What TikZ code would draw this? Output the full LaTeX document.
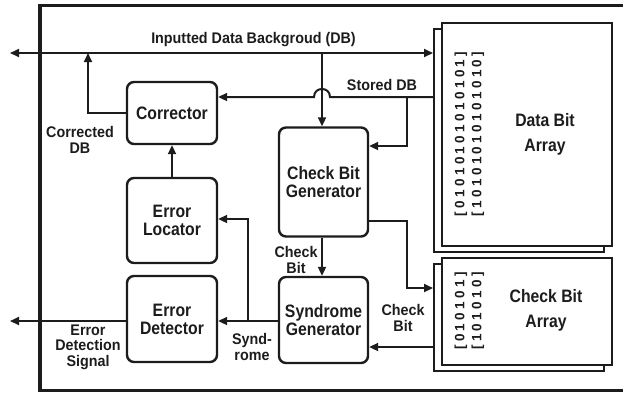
\documentclass[tikz,border=0pt]{standalone}
\usepackage{fontspec}
\setmainfont{Liberation Sans}
\newfontfamily\blockfont[FakeStretch=0.875]{Liberation Sans}
\newfontfamily\notefont[FakeStretch=0.93]{Liberation Sans}
\usetikzlibrary{arrows.meta}
\definecolor{ink}{HTML}{1C1C1C}
\begin{document}
\begin{tikzpicture}[x=1pt,y=-1pt,
  >={Triangle[length=9pt,width=8pt]},
  module/.style={draw=ink, line width=2.4pt, rounded corners=7pt, align=center,
    text=ink, inner sep=0pt, font=\blockfont\bfseries\fontsize{18}{18}\selectfont},
  lbl/.style={align=center, text=ink, inner sep=0pt,
    font=\notefont\bfseries\fontsize{15.4}{15.5}\selectfont},
  arraybox/.style={draw=ink, line width=2pt, fill=white, inner sep=0pt},
  arraylbl/.style={align=center, text=ink, inner sep=0pt,
    font=\blockfont\bfseries\fontsize{18}{25}\selectfont},
  bits/.style={rotate=90, align=center, text=ink, inner sep=0pt,
    font=\fontsize{13.5}{17}\selectfont\bfseries\addfontfeature{LetterSpace=25}},
  wire/.style={draw=ink, line width=2pt},
]
\useasboundingbox (0,0) rectangle (623,392);

% outer frame (runs past the right edge)
\begin{scope}
  \clip (0,0) rectangle (623,392);
  \draw[ink, line width=3.5pt] (640,5.5) -- (40,5.5) -- (40,390.5) -- (640,390.5);
\end{scope}

% memory arrays, drawn as two stacked sheets
\node[arraybox, minimum width=170pt, minimum height=223pt] (dbb) at (519,140.5) {};
\node[arraybox, minimum width=170pt, minimum height=223pt] (dbf) at (527,134.5) {};
\node[arraybox, minimum width=170pt, minimum height=107pt] (cbb) at (519,317.5) {};
\node[arraybox, minimum width=170pt, minimum height=107pt] (cbf) at (527,311.5) {};

\node[bits] (dbits) at (469.5,134) {{[}01010101010101{]}\\{[}10101010101010{]}};
\node[bits] (cbits) at (469.5,311) {{[}010101{]}\\{[}101010{]}};
\node[arraylbl] (dbl) at (545,134) {Data Bit\\Array};
\node[arraylbl] (cbl) at (546,310) {Check Bit\\Array};

% functional blocks
\node[module, minimum width=90pt, minimum height=62pt] (corr) at (172,113) {Corrector};
\node[module, minimum width=90pt, minimum height=85pt] (loc) at (172,220.5) {Error\\Locator};
\node[module, minimum width=90pt, minimum height=86pt] (det) at (172,319) {Error\\Detector};
\node[module, minimum width=89pt, minimum height=109pt] (cbg) at (323.5,182) {Check Bit\\Generator};
\node[module, minimum width=89pt, minimum height=86pt] (syn) at (323.5,320) {Syndrome\\Generator};

% routing points
\coordinate (busL) at (10,53);
\coordinate (busJ) at (322,53);
\coordinate (sdbY) at (0,97);
\coordinate (sdbJ) at (407,97);
\coordinate (sdbT) at (407,146);
\coordinate (cbo1) at (407,221);
\coordinate (cbo2) at (407,288);
\coordinate (cbiY) at (0,347);
\coordinate (synY) at (0,321);
\coordinate (synJ) at (248,321);
\coordinate (synT) at (248,219);
\coordinate (errL) at (10,321);
\coordinate (corJ) at (88,113);
\coordinate (corT) at (88,53);

% input data background bus
\draw[wire, <->] (busL) -- (busL -| dbb.west);
\draw[wire, ->] (busJ) -- (busJ |- cbg.north);

% stored data, hopping over the bus branch
\draw[wire, ->] (dbb.west |- sdbY) -- (330,97)
  .. controls (330,86.3) and (314,86.3) .. (314,97) -- (corr.east |- sdbY);
\draw[wire, ->] (sdbJ) -- (sdbT) -- (sdbT -| cbg.east);

% check bits
\draw[wire, ->] (cbg.east |- cbo1) -- (cbo1) -- (cbo2) -- (cbo2 -| cbb.west);
\draw[wire, ->] (cbb.west |- cbiY) -- (syn.east |- cbiY);
\draw[wire, ->] (cbg.south -| busJ) -- (syn.north -| busJ);

% syndrome
\draw[wire, ->] (syn.west |- synY) -- (det.east |- synY);
\draw[wire, ->] (synJ) -- (synT) -- (synT -| loc.east);

% outputs
\draw[wire, ->] (det.west |- synY) -- (errL);
\draw[wire, ->] (loc.north) -- (corr.south);
\draw[wire, ->] (corr.west) -- (corJ) -- (corT);

% labels
\node[lbl] (tIn) at (253.5,40) {Inputted Data Backgroud (DB)};
\node[lbl] (tSdb) at (382,85) {Stored DB};
\node[lbl] (tCor) at (80,140) {Corrected\\DB};
\node[lbl] (tCb1) at (296,260) {Check\\Bit};
\node[lbl] (tCb2) at (403,318) {Check\\Bit};
\node[lbl] (tSyn) at (252,347) {Synd-\\rome};
\node[lbl] (tErr) at (88,347) {Error\\Detection\\Signal};
\end{tikzpicture}
\end{document}
